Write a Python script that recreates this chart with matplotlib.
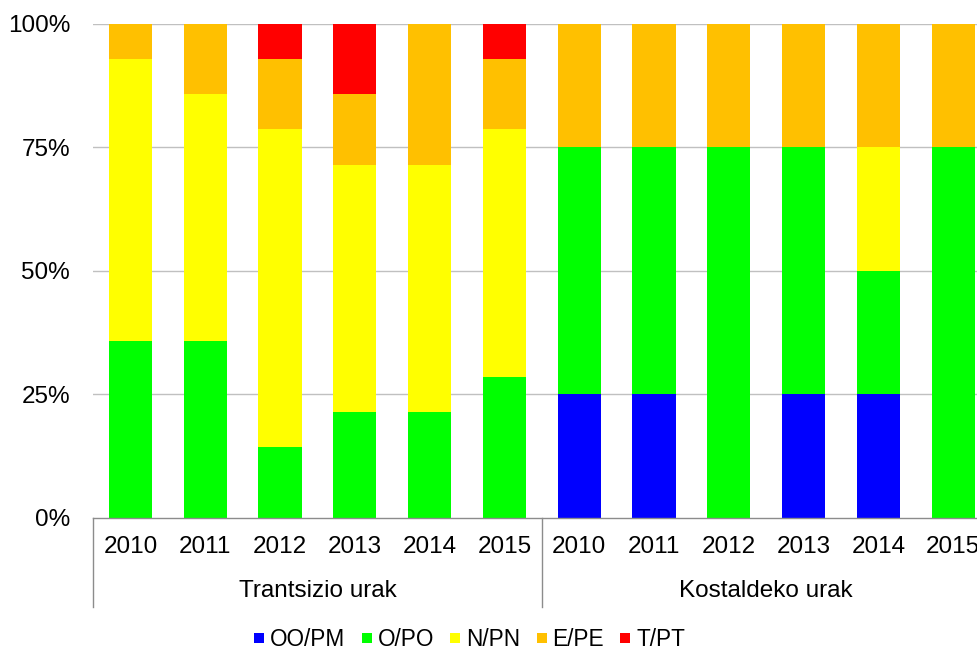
import matplotlib
matplotlib.use("Agg")
import matplotlib.pyplot as plt
from matplotlib.lines import Line2D
import numpy as np

plt.rcParams['font.family'] = ['Liberation Sans', 'DejaVu Sans']

years = ["2010", "2011", "2012", "2013", "2014", "2015"]
groups = ["Trantsizio urak", "Kostaldeko urak"]
series_names = ["OO/PM", "O/PO", "N/PN", "E/PE", "T/PT"]
colors = ["#0000FF", "#00FF00", "#FFFF00", "#FFC000", "#FF0000"]

OO_PM = [0, 0, 0, 0, 0, 0, 25, 25, 0, 25, 25, 0]
O_PO = [35.7, 35.7, 14.3, 21.4, 21.4, 28.6, 50, 50, 75, 50, 25, 75]
N_PN = [57.2, 50.0, 64.3, 50.0, 50.0, 50.0, 0, 0, 0, 0, 25, 0]
E_PE = [7.1, 14.3, 14.3, 14.3, 28.6, 14.3, 25, 25, 25, 25, 25, 25]
T_PT = [0, 0, 7.1, 14.3, 0, 7.1, 0, 0, 0, 0, 0, 0]
series = [OO_PM, O_PO, N_PN, E_PE, T_PT]

FS = 17.5
LFS = 16.3
fig = plt.figure(figsize=(9.77, 6.5), dpi=100)
W, H = 977, 650
ax_left, ax_right, ax_top, ax_bot = 93, 990.6, 23.5, 518
ax = fig.add_axes([ax_left / W, 1 - ax_bot / H, (ax_right - ax_left) / W, (ax_bot - ax_top) / H])

n = len(years) * len(groups)
x = np.arange(n)
bottom = np.zeros(n)
for vals, col, name in zip(series, colors, series_names):
    v = np.array(vals, dtype=float)
    ax.bar(x, v, width=0.575, bottom=bottom, color=col, label=name, zorder=2, linewidth=0)
    bottom += v

ax.set_xlim(-0.5, n - 0.5)
ax.set_ylim(0, 100)
ax.set_yticks([0, 25, 50, 75, 100])
ax.set_yticklabels(["0%", "25%", "50%", "75%", "100%"], fontsize=FS)
ax.tick_params(axis='y', length=0, pad=16.5)
ax.set_xticks([])
for y in [25, 50, 75, 100]:
    ax.axhline(y, color="#c0c0c0", lw=1.0, zorder=1)
for s in ["left", "right", "top"]:
    ax.spines[s].set_visible(False)
ax.spines["bottom"].set_color("#8c8c8c")
ax.spines["bottom"].set_linewidth(1.0)

trans = ax.get_xaxis_transform()
ah = ax_bot - ax_top
lab_y = -(547 - ax_bot) / ah
grp_y = -(591 - ax_bot) / ah
sep_y = -(607 - ax_bot) / ah
for i in range(n):
    ax.text(i, lab_y, years[i % len(years)], transform=trans, ha="center", va="center",
            fontsize=FS, clip_on=False)
for g, name in enumerate(groups):
    cx = g * len(years) + (len(years) - 1) / 2
    ax.text(cx, grp_y, name, transform=trans, ha="center", va="center", fontsize=FS, clip_on=False)
for g in range(len(groups) + 1):
    xs = g * len(years) - 0.5
    ax.plot([xs, xs], [0, sep_y], transform=trans, color="#8c8c8c", lw=1.0, clip_on=False)

handles = [Line2D([], [], marker="s", linestyle="none", markersize=7.9, color=c,
                  markeredgewidth=0) for c in colors]
fig.legend(handles, series_names, loc="center", bbox_to_anchor=(469.5 / W, 1 - 639 / H),
           ncol=5, frameon=False, fontsize=LFS, handlelength=0.49, handletextpad=0.23,
           columnspacing=0.7, borderpad=0, borderaxespad=0)

fig.savefig("out.png", dpi=100)
